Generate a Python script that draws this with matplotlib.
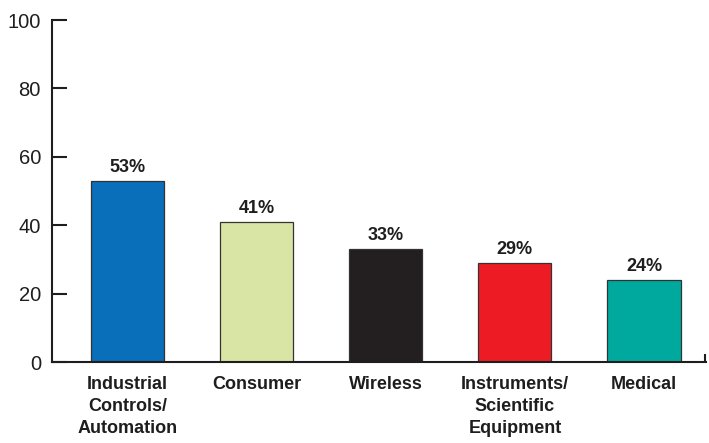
import matplotlib.pyplot as plt
from matplotlib import font_manager

#chart data
categories = ['Industrial\nControls/\nAutomation', 'Consumer', 'Wireless',
              'Instruments/\nScientific\nEquipment', 'Medical']
values = [53, 41, 33, 29, 24]
bar_colors = ['#0a6fba', '#d9e5a4', '#231f20', '#ed1c24', '#00a99d']
yticks = [0, 20, 40, 60, 80, 100]

#pick a narrow font if there is one
names = set(f.name for f in font_manager.fontManager.ttflist)
fam = ['Liberation Sans Narrow', 'Liberation Sans', 'DejaVu Sans']
fam = [f for f in fam if f in names] or ['DejaVu Sans']
plt.rcParams['font.family'] = fam
txt = '#1e1e1e'

fig = plt.figure(figsize=(7.09, 4.43), dpi=100)
ax = fig.add_axes([52/709, 1 - 362/443, (706 - 52)/709, (362 - 20)/443])

x = list(range(len(values)))
bars = ax.bar(x, values, width=0.566, color=bar_colors, edgecolor='#333333', linewidth=0.9)

#value labels above bars
for b, v in zip(bars, values):
    ax.text(b.get_x() + b.get_width()/2, v + 1.5, f'{v}%', ha='center', va='bottom',
            fontsize=13, fontweight='bold', color=txt)

ax.set_xlim(-0.585, 4.48)
ax.set_ylim(0, 100)
ax.set_yticks(yticks)
ax.tick_params(axis='y', direction='in', length=10.5, width=1.5, colors=txt,
               labelsize=14.5, pad=8)
ax.set_xticks(x)
ax.set_xticklabels(categories, fontsize=13, fontweight='bold', color=txt,
                   linespacing=1.4)
ax.tick_params(axis='x', length=0, pad=10)
# little closing tick at the right end of the x axis
ax.set_xticks([4.47], minor=True)
ax.tick_params(axis='x', which='minor', direction='in', length=6, width=1.5, color=txt)

for s in ['top', 'right']:
    ax.spines[s].set_visible(False)
for s in ['left', 'bottom']:
    ax.spines[s].set_linewidth(1.5)
    ax.spines[s].set_color(txt)

plt.savefig('out.png', dpi=100)
